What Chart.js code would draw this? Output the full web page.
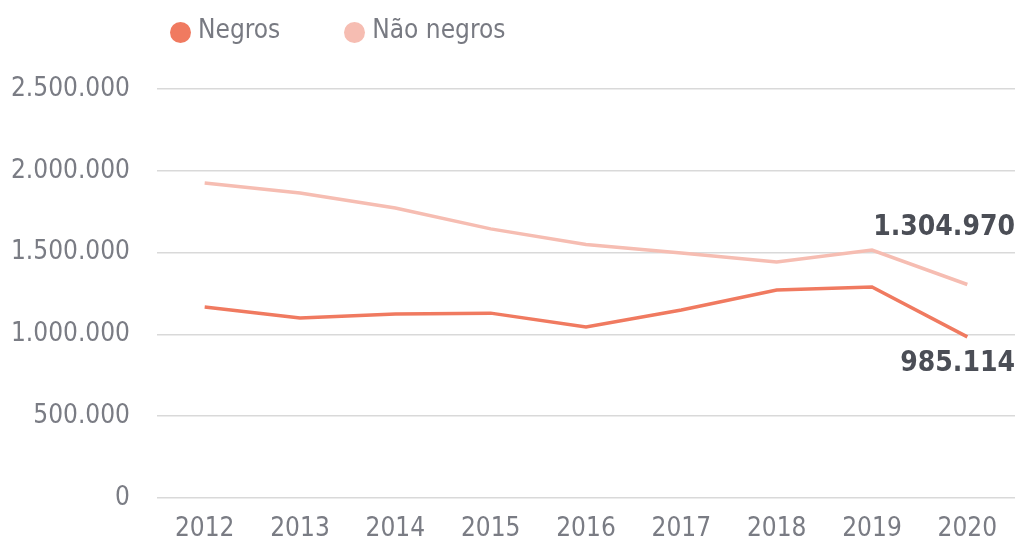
<!DOCTYPE html>
<html>
<head>
<meta charset="utf-8">
<script src="https://cdn.jsdelivr.net/npm/chart.js@4/dist/chart.umd.min.js"></script>
<style>
  html, body { margin: 0; padding: 0; background: #fff; }
  #wrap { position: relative; width: 1022px; height: 548px; }
  #legend { position: absolute; top: 14px; left: 170px; display: flex; gap: 64px;
            font-family: 'DejaVu Sans Condensed', 'DejaVu Sans', sans-serif; font-stretch: condensed;
            font-size: 26px; color: #787a82; }
  #legend .item { display: flex; align-items: center; }
  #legend .dot { width: 21px; height: 21px; border-radius: 50%; margin-right: 7px; margin-top: 6px; }
</style>
</head>
<body>
<div id="wrap">
  <canvas id="linechart" width="1022" height="548"></canvas>
  <div id="legend"></div>
</div>
<script>
// values
const years = ['2012', '2013', '2014', '2015', '2016', '2017', '2018', '2019', '2020'];
const negros = [1168000, 1100000, 1125000, 1130000, 1045000, 1149000, 1271000, 1290000, 985114];
const naoNegros = [1925000, 1864000, 1773000, 1645000, 1550000, 1497000, 1443000, 1516000, 1304970];
const yTicks = [0, 500000, 1000000, 1500000, 2000000, 2500000];
const seriesNames = ['Negros', 'Não negros'];
const seriesColors = ['#F07A60', '#F6BDB2'];

const fmt = v => String(Math.round(v)).replace(/\B(?=(\d{3})+(?!\d))/g, '.');
const narrow = "'DejaVu Sans Condensed', 'DejaVu Sans', sans-serif";

// legend
const legendEl = document.getElementById('legend');
seriesNames.forEach((name, i) => {
  const item = document.createElement('div');
  item.className = 'item';
  item.innerHTML = '<span class="dot" style="background:' + seriesColors[i] + '"></span><span>' + name + '</span>';
  legendEl.appendChild(item);
});

// bold value labels at the end of each line
const endLabels = {
  id: 'endLabels',
  afterDatasetsDraw(chart) {
    const ctx = chart.ctx;
    const y = chart.scales.y;
    const right = chart.chartArea.right;
    ctx.save();
    ctx.font = 'bold condensed 28px ' + narrow;
    ctx.fillStyle = '#4b4e56';
    ctx.textAlign = 'right';
    ctx.textBaseline = 'middle';
    const last = years.length - 1;
    ctx.fillText(fmt(naoNegros[last]), right, y.getPixelForValue(naoNegros[last]) - 57);
    ctx.fillText(fmt(negros[last]), right, y.getPixelForValue(negros[last]) + 27);
    ctx.restore();
  }
};

const lineCtx = document.getElementById('linechart').getContext('2d');
new Chart(lineCtx, {
  type: 'line',
  data: {
    labels: years,
    datasets: [{
      label: seriesNames[1],
      data: naoNegros,
      borderColor: seriesColors[1],
      borderWidth: 3.5,
      pointRadius: 0,
      tension: 0,
      fill: false
    }, {
      label: seriesNames[0],
      data: negros,
      borderColor: seriesColors[0],
      borderWidth: 3.5,
      pointRadius: 0,
      tension: 0,
      fill: false
    }]
  },
  options: {
    responsive: false,
    animation: false,
    layout: { padding: { top: 89, right: 7, bottom: 0, left: 0 } },
    plugins: { legend: { display: false }, tooltip: { enabled: false } },
    scales: {
      x: {
        offset: true,
        afterFit(scale) { scale.height = 50; },
        grid: { display: false, drawTicks: false },
        border: { display: false },
        ticks: { padding: 16, color: '#7a7c84', font: { family: narrow, weight: 'condensed', size: 26 } }
      },
      y: {
        min: 0,
        max: 2500000,
        afterFit(scale) { scale.width = 157; },
        afterBuildTicks(scale) { scale.ticks = yTicks.map(v => ({ value: v })); },
        grid: { color: '#d9d9d9', lineWidth: 1.6, drawTicks: false },
        border: { display: false },
        ticks: {
          padding: 27,
          color: '#7a7c84',
          font: { family: narrow, weight: 'condensed', size: 26 },
          callback: v => fmt(v)
        }
      }
    }
  },
  plugins: [endLabels]
});
</script>
</body>
</html>
